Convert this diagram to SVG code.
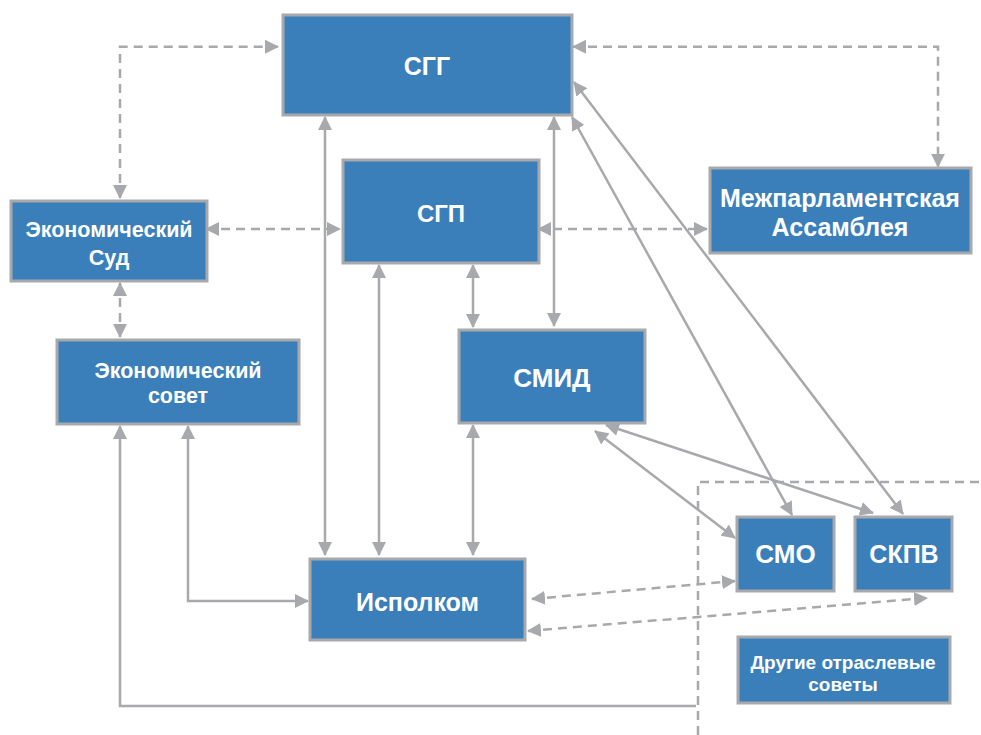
<svg xmlns="http://www.w3.org/2000/svg" width="981" height="735" viewBox="0 0 981 735">
<style>
.box{fill:#3a7fba;stroke:#a7a9ac;stroke-width:3}
.t{font-family:"Liberation Sans",Arial,sans-serif;font-weight:bold;fill:#ffffff;text-anchor:middle}
.c{fill:none;stroke:#a7a9ac;stroke-width:2.5}
.d{stroke-dasharray:9 6}
.ab{marker-start:url(#ah);marker-end:url(#ah)}
</style>
<defs>
<marker id="ah" markerUnits="userSpaceOnUse" markerWidth="14" markerHeight="14" refX="13" refY="7" orient="auto-start-reverse" viewBox="0 0 14 14">
<path d="M0,0 L14,7 L0,14 z" fill="#a7a9ac"/>
</marker>
</defs>
<rect width="981" height="735" fill="#ffffff"/>
<g id="connectors">
<path class="c d ab" d="M120,198 V46.7 H278"/>
<path class="c d ab" d="M573,46.7 H938 V166.7"/>
<path class="c d ab" d="M206,229 H340"/>
<path class="c d ab" d="M538,229 H707"/>
<path class="c d ab" d="M120,283 V337"/>
<path class="c ab" d="M325,117 V555"/>
<path class="c ab" d="M379,265 V555"/>
<path class="c ab" d="M473,265 V327"/>
<path class="c ab" d="M554,117 V326"/>
<path class="c ab" d="M473,425 V555"/>
<path class="c ab" d="M188,426 V601 H308"/>
<path class="c" style="marker-start:url(#ah)" d="M120,426 V706 H696"/>
<path class="c d" d="M698,735 V482 H981"/>
<path class="c ab" d="M572,117 L792,515"/>
<path class="c ab" d="M574,82 L903,514"/>
<path class="c ab" d="M595,431 L735,538"/>
<path class="c ab" d="M606,425 L873,513"/>
<path class="c d ab" d="M532,599 L735,581"/>
<path class="c d ab" d="M528,631 L927,598"/>
</g>
<g id="sgg"><rect class="box" x="283" y="15" width="289" height="100"/><text class="t" x="427" y="75" font-size="25">СГГ</text></g>
<g id="sgp"><rect class="box" x="343" y="160" width="196" height="103"/><text class="t" x="441" y="222" font-size="24">СГП</text></g>
<g id="mpa"><rect class="box" x="710" y="168" width="261" height="85"/><text class="t" x="840" y="207" font-size="25">Межпарламентская</text><text class="t" x="840" y="236" font-size="25">Ассамблея</text></g>
<g id="econ-sud"><rect class="box" x="11" y="201" width="196" height="80"/><text class="t" x="109" y="237" font-size="21.5">Экономический</text><text class="t" x="109" y="265" font-size="21.5">Суд</text></g>
<g id="econ-sovet"><rect class="box" x="57" y="340" width="242" height="84"/><text class="t" x="178" y="378" font-size="21.5">Экономический</text><text class="t" x="178" y="403" font-size="21.5">совет</text></g>
<g id="smid"><rect class="box" x="459" y="330" width="186" height="93"/><text class="t" x="552" y="386.5" font-size="26">СМИД</text></g>
<g id="ispolkom"><rect class="box" x="310" y="559" width="215" height="81"/><text class="t" x="417.5" y="610.5" font-size="25">Исполком</text></g>
<g id="smo"><rect class="box" x="737" y="517" width="97" height="74"/><text class="t" x="785.5" y="563" font-size="26">СМО</text></g>
<g id="skpv"><rect class="box" x="855" y="517" width="97" height="74"/><text class="t" x="904" y="563" font-size="25">СКПВ</text></g>
<g id="drugie"><rect class="box" x="738" y="637" width="212" height="66"/><text class="t" x="843" y="669" font-size="19">Другие отраслевые</text><text class="t" x="843" y="691" font-size="19">советы</text></g>
</svg>
